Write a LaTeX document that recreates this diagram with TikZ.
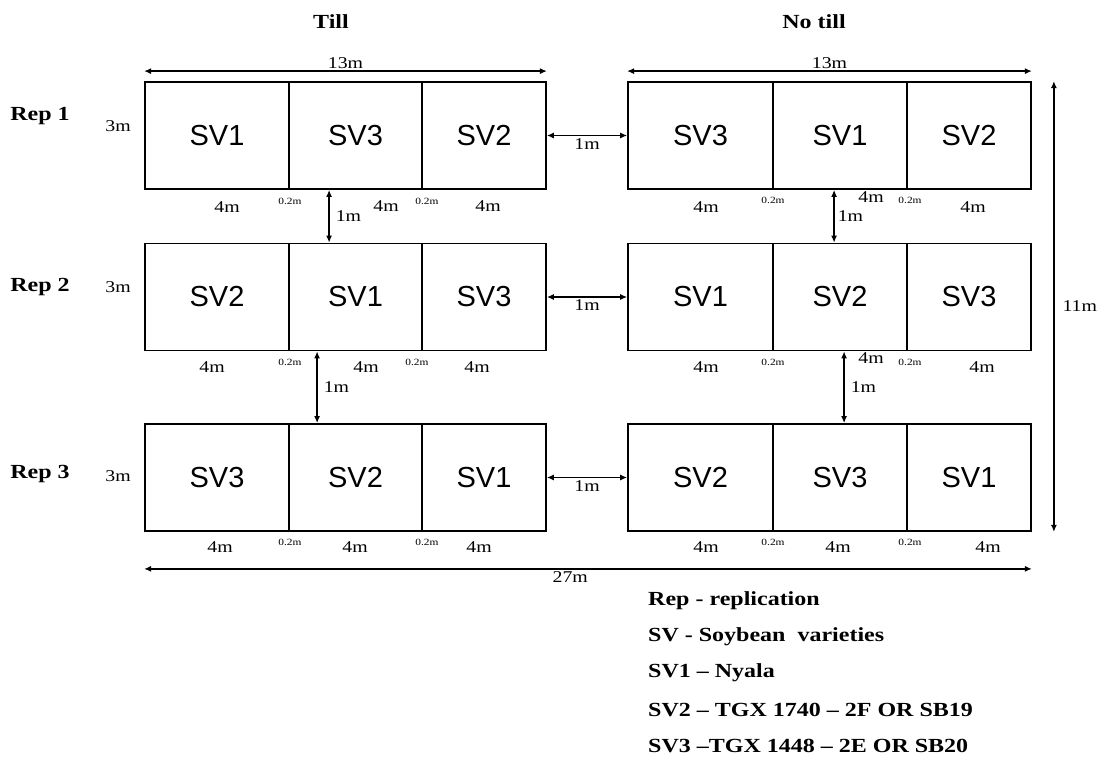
\documentclass[tikz,border=0pt]{standalone}
\usepackage{fontspec}
\setmainfont{Liberation Serif}[FakeStretch=1.2]
\newfontfamily\cellfont{Liberation Sans}
\usetikzlibrary{arrows.meta,positioning,calc}

\begin{document}
\begin{tikzpicture}[
    x=1pt, y=-1pt,
    plot/.style={draw, line width=1.8pt, minimum height=107pt, inner sep=0pt, font=\cellfont\fontsize{29}{29}\selectfont},
    arr/.style={{Latex[length=7pt,width=6pt]}-{Latex[length=7pt,width=6pt]}, line width=1.3pt},
    head/.style={font=\bfseries\fontsize{20}{20}\selectfont},
    dim/.style={font=\fontsize{16.5}{16.5}\selectfont, inner sep=2pt},
    gap/.style={font=\fontsize{9.5}{9.5}\selectfont, inner sep=0pt},
    key/.style={anchor=west, font=\bfseries\fontsize{20}{20}\selectfont, inner sep=0pt},
]
    \useasboundingbox (0,0) rectangle (1103,759);

    % plots: till (t) and no till (n), one row per rep
    \foreach \r/\y/\pa/\pb/\pc/\qa/\qb/\qc in {1/135.5/SV1/SV3/SV2/SV3/SV1/SV2,
        2/297/SV2/SV1/SV3/SV1/SV2/SV3, 3/477.5/SV3/SV2/SV1/SV2/SV3/SV1} {
        \node[plot, minimum width=144pt] (t\r a) at (217,\y) {\pa};
        \node[plot, minimum width=133pt] (t\r b) at (355.5,\y) {\pb};
        \node[plot, minimum width=124pt] (t\r c) at (484,\y) {\pc};
        \node[plot, minimum width=145pt] (n\r a) at (700.5,\y) {\qa};
        \node[plot, minimum width=134pt] (n\r b) at (840,\y) {\qb};
        \node[plot, minimum width=124pt] (n\r c) at (969,\y) {\qc};
    }

    \node[head] (till) at (331,22) {Till};
    \node[head] (notill) at (814,22) {No till};
    \node[head] (rep1) at (40,116) {Rep 1};
    \node[head] (rep2) at (40,287) {Rep 2};
    \node[head] (rep3) at (40,474) {Rep 3};
    \node[dim] (h1) at (118,126) {3m};
    \node[dim] (h2) at (118,287) {3m};
    \node[dim] (h3) at (118,476) {3m};

    % spacing between blocks
    \foreach \r in {1,2,3}
        \draw[arr] (t\r c.east) -- node[dim, below] {1m} (n\r a.west);
    \draw[arr] ([xshift=41pt]t1b.south west) -- node[dim, right=4pt] {1m} ([xshift=41pt]t2b.north west);
    \draw[arr] ([xshift=62pt]n1b.south west) -- node[dim, right=1pt] {1m} ([xshift=62pt]n2b.north west);
    \draw[arr] ([xshift=29pt]t2b.south west) -- node[dim, right=4pt] {1m} ([xshift=29pt]t3b.north west);
    \draw[arr] ([xshift=72pt]n2b.south west) -- node[dim, right=4pt] {1m} ([xshift=72pt]n3b.north west);

    % overall sizes
    \draw[arr] ([yshift=10pt]t1a.north west) -- node[dim, above] {13m} ([yshift=10pt]t1c.north east);
    \draw[arr] ([yshift=10pt]n1a.north west) -- node[dim, above] {13m} ([yshift=10pt]n1c.north east);
    \draw[arr] ([xshift=22pt]n1c.north east) -- node[dim, right=6pt] {11m} ([xshift=22pt]n3c.south east);
    \draw[arr] ([yshift=-37pt]t3a.south west) -- node[dim, below, pos=0.48] {27m} ([yshift=-37pt]n3c.south east);

    % plot widths and gaps
    \foreach \x/\y [count=\i] in {227/207, 386/206, 488/206, 706/207, 871/197, 973/207,
        212/367, 366/367, 477/367, 706/367, 871/358, 982/367,
        220/547, 355/547, 479/547, 706/547, 838/547, 988/547}
        \node[dim] (w\i) at (\x,\y) {4m};
    \foreach \x/\y [count=\i] in {290/201, 427/201, 773/200, 910/200,
        290/362, 417/362, 773/362, 910/362,
        290/542, 427/542, 773/542, 910/542}
        \node[gap] (g\i) at (\x,\y) {0.2m};

    % key
    \node[key] (k1) at (648,601) {Rep - replication};
    \node[key] (k2) at (648,637) {SV - Soybean\ \ varieties};
    \node[key] (k3) at (648,673) {SV1 – Nyala};
    \node[key] (k4) at (648,710) {SV2 – TGX 1740 – 2F OR SB19};
    \node[key] (k5) at (648,746) {SV3 –TGX 1448 – 2E OR SB20};
\end{tikzpicture}
\end{document}
